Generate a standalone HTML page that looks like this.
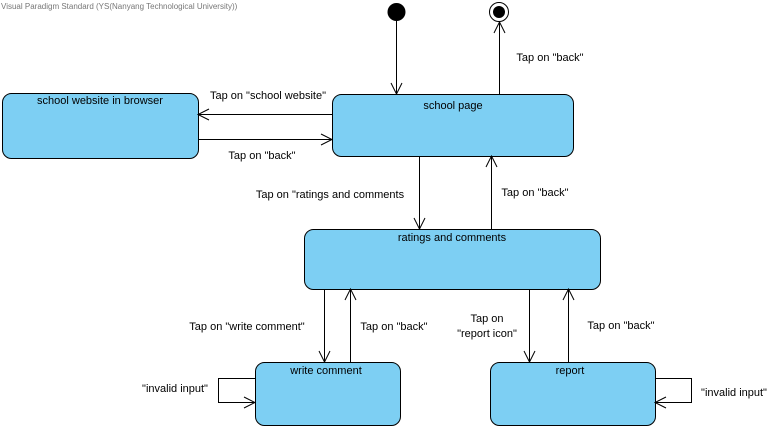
<!DOCTYPE html>
<html><head><style>
body{margin:0;background:#fff;width:782px;height:429px;overflow:hidden}
svg{font-family:"Liberation Sans",Arial,sans-serif;font-size:11px}
</style></head><body>
<svg width="782" height="429" viewBox="0 0 782 429">
<text x="1" y="9" font-size="8" fill="#777">Visual Paradigm Standard (YS(Nanyang Technological University))</text>
<g fill="#7dcff3" stroke="#000" stroke-width="1">
<rect x="2.5" y="93.5" width="196" height="65" rx="9"/>
<rect x="332.5" y="94.5" width="241" height="62" rx="9"/>
<rect x="304.5" y="229.5" width="296" height="60" rx="9"/>
<rect x="255.5" y="362.5" width="145" height="63" rx="9"/>
<rect x="490.5" y="362.5" width="165" height="63" rx="9"/>
</g>
<circle cx="396.5" cy="12" r="9" fill="#000"/>
<circle cx="499" cy="12" r="9.5" fill="#fff" stroke="#000"/>
<circle cx="499" cy="12" r="6" fill="#000"/>
<g stroke="#000" fill="none" stroke-width="1">
<path d="M396.5 21V94M391 83l5.5 11 5.5-11"/>
<path d="M499.5 94V22M494 33l5.5-11 5.5 11"/>
<path d="M332 114.5H198M209 109l-11 5.5 11 5.5"/>
<path d="M198 139.5H332M321 134l11 5.5-11 5.5"/>
<path d="M419.5 156V229M414 218l5.5 11 5.5-11"/>
<path d="M491.5 229V156M486 167l5.5-11 5.5 11"/>
<path d="M324.5 289V362M319 351l5.5 11 5.5-11"/>
<path d="M350.5 362V289M345 300l5.5-11 5.5 11"/>
<path d="M529.5 289V362M524 351l5.5 11 5.5-11"/>
<path d="M568.5 362V289M563 300l5.5-11 5.5 11"/>
<path d="M255 378.5H218.5V402.5H255M244 397l11 5.5-11 5.5"/>
<path d="M655 378.5H691.5V402.5H655M666 397l-11 5.5 11 5.5"/>
</g>
<g fill="#000" text-anchor="middle">
<text x="100" y="104">school website in browser</text>
<text x="453" y="109">school page</text>
<text x="452" y="241">ratings and comments</text>
<text x="326" y="374">write comment</text>
<text x="570" y="374">report</text>
<text x="268" y="99">Tap on "school website"</text>
<text x="262" y="159">Tap on "back"</text>
<text x="550" y="61">Tap on "back"</text>
<text x="330" y="198">Tap on "ratings and comments</text>
<text x="535" y="196">Tap on "back"</text>
<text x="247" y="330">Tap on "write comment"</text>
<text x="394" y="330">Tap on "back"</text>
<text x="487" y="322">Tap on</text>
<text x="487" y="337">"report icon"</text>
<text x="621" y="329">Tap on "back"</text>
<text x="175" y="392">"invalid input"</text>
<text x="734" y="396">"invalid input"</text>
</g>
</svg>
</body></html>
